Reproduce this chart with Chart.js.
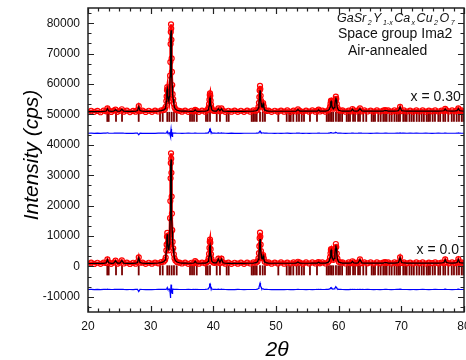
<!DOCTYPE html>
<html><head><meta charset="utf-8">
<script src="https://cdn.jsdelivr.net/npm/chart.js@4.4.0/dist/chart.umd.min.js"></script>
<style>html,body{margin:0;padding:0;background:#fff;overflow:hidden}</style>
</head><body>
<canvas id="c" width="466" height="360"></canvas>
<script>
// ---- data ----
const twoTheta=[
// S1
20.0,20.5,21.0,21.5,22.0,22.5,22.9,23.1,23.3,23.7,
24.1,24.4,24.7,25.1,25.4,25.7,26.2,26.7,27.2,27.6,
27.9,28.1,28.3,28.7,29.2,29.7,30.2,30.7,31.2,31.7,
// S2
32.1,32.3,32.4,32.5,32.55,32.6,32.65,32.7,32.75,32.8,
32.9,33.0,33.05,33.1,33.14,33.18,33.21,33.25,33.28,33.31,
33.35,33.39,33.44,33.5,33.6,33.7,33.8,33.95,34.2,34.6,
// S3
35.0,35.5,36.0,36.5,36.9,37.1,37.3,37.7,38.2,
// S4
38.7,39.0,39.15,39.25,39.32,39.38,39.43,39.47,39.52,39.57,39.63,39.7,39.8,40.0,40.2,
// S5
40.5,40.8,41.05,41.3,41.55,41.9,42.4,42.9,43.4,43.9,44.4,44.9,45.4,45.9,46.4,
// S6
46.8,47.05,47.2,47.28,47.34,47.39,47.45,47.5,47.55,47.61,47.68,47.77,47.87,47.95,48.05,48.2,48.5,
// S7
48.8,49.3,49.8,50.3,50.8,51.3,51.8,52.3,52.8,53.2,53.5,53.8,54.3,54.8,55.3,55.8,56.3,56.6,56.8,57.0,57.4,57.9,
// S8
58.3,58.5,58.62,58.7,58.76,58.8,58.86,58.93,59.02,59.15,59.3,59.4,59.47,59.55,59.62,59.7,59.8,60.0,60.3,
// S9
60.6,
61.1,61.6,62.0,62.2,62.4,62.8,63.1,63.4,63.7,64.1,
64.6,65.1,65.6,66.1,66.6,67.1,67.4,67.6,67.9,68.4,
68.9,69.3,69.55,69.8,70.05,70.4,70.9,71.4,71.9,72.4,
72.9,73.4,73.9,74.4,74.9,75.4,75.9,76.4,76.8,77.0,
77.2,77.6,78.1,78.6,78.9,79.1,79.3,79.6,80.0];

// x = 0.30 pattern (plotted with +50000 offset)
const obsTop=[
50750,51200,50850,51150,50700,51250,51000,52000,51300,50800,
51250,51600,50850,51200,51700,50900,51250,50750,51150,50900,
51400,52700,51100,51250,50800,51200,50850,51250,50950,51350,
51470,51890,52520,54390,55910,57970,58990,58170,56450,55300,
54420,56100,58510,62750,67210,73140,77100,79640,78240,74560,
68400,63970,59670,56650,55030,53440,52330,51730,51360,51170,
50900,51250,50850,51200,50950,51520,51250,50850,51250,
50900,51400,51590,52239,53360,54835,56370,56900,56130,54540,53240,52120,51530,51212,51130,
51250,51950,51000,51950,51250,50850,51200,50900,51250,50850,51200,50850,51250,50900,51300,
51227,51527,52371,53794,55713,57880,59396,58341,56124,54358,52913,52550,53161,53732,52672,51533,51152,
51250,50850,51200,50900,51250,50900,51300,50850,51250,50950,51640,51200,50850,51250,50900,51300,50900,51250,51540,50950,51250,50900,
51279,51660,52490,53529,54359,54577,54154,53133,52305,51881,52318,53536,54828,55842,55076,53465,52182,51390,51201,
51300,
50900,51250,51000,51780,51300,50950,51300,51980,51000,51300,
50950,51250,50900,51300,50950,51250,51400,51150,51300,50900,
51300,50950,51350,52500,51100,51300,50950,51250,50900,51300,
50950,51300,50900,51250,51000,51300,50950,51250,51100,51800,
51350,50950,51300,51000,51350,52000,51150,51300,51000];
const calcTop=[
50900,50920,50930,50940,50950,50970,51130,51850,51130,51000,
51030,51550,51030,51040,51650,51040,51010,51000,51010,51030,
51250,52550,51250,51040,51020,51020,51030,51040,51100,51230,
51470,51880,52500,54300,55750,57650,58400,57850,56250,55200,
54350,55950,58300,62300,66600,72300,75800,77700,76600,73300,
67600,63400,59350,56500,54950,53400,52320,51720,51360,51170,
51080,51050,51030,51020,51080,51480,51080,51020,51040,
51070,51200,51440,51930,52770,53880,55030,55430,54850,53660,52680,51840,51400,51160,51100,
51100,51850,51170,51850,51100,51030,51020,51020,51020,51020,51020,51020,51030,51040,51060,
51189,51436,52130,53298,54873,56652,57897,57035,55221,53780,52612,52365,52994,53552,52558,51487,51134,
51050,51030,51030,51030,51030,51030,51030,51040,51040,51070,51580,51070,51050,51050,51050,51050,51060,51090,51480,51090,51070,51090,
51263,51617,52389,53365,54137,54340,53946,53002,52219,51824,52233,53368,54601,55542,54822,53298,52104,51366,51190,
51100,
51090,51090,51180,51720,51180,51100,51140,51900,51140,51100,
51090,51090,51090,51090,51090,51100,51270,51270,51100,51090,
51100,51120,51230,52400,51230,51120,51100,51100,51100,51100,
51100,51110,51110,51110,51110,51110,51110,51120,51210,51750,
51210,51120,51110,51130,51240,51900,51240,51130,51100];
const diffTop=[
43800,43830,43770,43810,43750,43830,43830,43950,43830,43800,
43810,43850,43810,43810,43850,43810,43790,43780,43790,43810,
43820,43300,43820,43790,43780,43800,43770,43790,43810,43810,
43810,43800,43820,43890,43960,44120,44390,44120,44000,43900,
43870,43950,43600,43200,42600,42900,43900,45200,45000,44600,
44200,43300,42800,43950,43880,43840,43810,43810,43800,43800,
43790,43800,43810,43800,43810,43840,43810,43800,43800,
43824,43866,43947,44110,44390,44759,45142,45275,45082,44685,44360,44080,43932,43853,43832,
43800,43900,43810,43900,43810,43800,43790,43810,43780,43800,43790,43800,43800,43800,43800,
43819,43846,43921,44048,44220,44414,44550,44453,44252,44089,43951,43893,43884,43890,43857,43823,43809,
43800,43800,43790,43800,43790,43800,43810,43790,43800,43810,43860,43810,43790,43800,43790,43800,43800,43810,43860,43810,43800,43800,
43816,43843,43901,43964,44022,44037,44008,43931,43886,43857,43885,43968,44027,44100,44054,43967,43878,43824,43811,
43800,
43790,43800,43810,43860,43810,43800,43810,43880,43810,43800,
43800,43790,43800,43810,43800,43800,43820,43820,43800,43800,
43800,43810,43810,43900,43810,43810,43800,43810,43800,43810,
43800,43800,43810,43800,43790,43800,43810,43800,43810,43850,
43810,43800,43800,43800,43810,43900,43810,43800,43800];

// x = 0.0 pattern
const obsBottom=[
850,1250,800,1200,850,1250,1150,2300,1350,850,
1250,1900,900,1250,2000,950,1250,800,1200,900,
1450,3000,1200,1250,850,1200,900,1250,1000,1400,
1600,2110,2905,5244,7150,9725,11000,9976,7832,6390,
5300,7450,10490,15850,21500,29000,34010,37210,35440,30800,
22980,17370,11920,8050,5950,4000,2650,1910,1450,1215,
950,1250,850,1200,1050,1720,1300,900,1250,
1000,1450,1780,2638,4120,6070,8100,8800,7790,5680,3960,2480,1700,1280,1180,
1300,2570,1100,2570,1300,900,1250,850,1200,900,1250,850,1250,950,1300,
1268,1628,2641,4353,6662,9271,11092,9815,7138,4996,3222,2690,3183,3700,2660,1548,1164,
1300,900,1250,950,1300,900,1250,950,1300,1000,1530,1250,900,1300,950,1300,950,1250,1440,1000,1300,950,
1354,1857,2955,4330,5429,5717,5157,3806,2710,2148,2724,4330,6035,7372,6362,4236,2544,1498,1249,
1300,
950,1300,1050,1700,1300,1000,1300,2280,1050,1300,
1000,1300,950,1300,1000,1250,1400,1150,1300,950,
1300,1000,1350,3000,1150,1300,1000,1250,950,1300,
1000,1300,950,1250,1050,1300,1000,1250,1150,2300,
1350,1000,1300,1050,1350,2400,1200,1300,1050];
const calcBottom=[
950,960,970,980,990,1000,1190,2200,1190,1020,
1050,1850,1050,1060,1950,1060,1010,1010,1010,1050,
1300,2850,1300,1040,1010,1010,1020,1030,1120,1260,
1590,2100,2880,5150,7000,9450,10600,9700,7650,6300,
5250,7300,10200,15400,20900,28200,33000,35200,34000,29800,
22400,16900,11600,7900,5850,3950,2630,1900,1440,1210,
1100,1060,1040,1030,1120,1680,1120,1030,1050,
1095,1267,1593,2245,3371,4853,6396,6928,6160,4557,3250,2125,1532,1213,1137,
1140,2450,1310,2450,1180,1040,1020,1020,1020,1020,1020,1020,1030,1040,1070,
1215,1501,2303,3657,5483,7545,8987,7982,5871,4188,2807,2446,2986,3501,2532,1492,1141,
1060,1040,1030,1030,1030,1030,1030,1030,1040,1070,1480,1070,1040,1040,1040,1050,1050,1090,1400,1090,1070,1100,
1333,1800,2821,4100,5122,5390,4870,3613,2594,2071,2607,4100,5686,6930,5990,4013,2440,1466,1235,
1100,
1090,1090,1170,1650,1170,1110,1160,2200,1160,1100,
1090,1090,1090,1090,1090,1100,1270,1270,1100,1090,
1100,1130,1270,2850,1270,1130,1100,1100,1100,1100,
1100,1100,1100,1100,1100,1100,1100,1120,1270,2200,
1270,1120,1110,1130,1290,2300,1290,1130,1100];
const diffBottom=[
-7600,-7570,-7620,-7590,-7630,-7580,-7590,-7500,-7590,-7600,
-7590,-7550,-7590,-7590,-7550,-7590,-7610,-7600,-7610,-7590,
-7580,-8300,-7580,-7600,-7610,-7600,-7620,-7600,-7590,-7590,
-7590,-7590,-7570,-7500,-7450,-7330,-7000,-7320,-7420,-7510,
-7550,-7450,-7900,-8600,-9600,-10400,-8800,-6000,-6300,-6600,
-7000,-8300,-8900,-7450,-7500,-7550,-7580,-7590,-7590,-7600,
-7600,-7600,-7590,-7600,-7590,-7560,-7590,-7600,-7600,
-7570,-7516,-7413,-7207,-6851,-6383,-5896,-5728,-5970,-6477,-6890,-7245,-7432,-7533,-7557,
-7590,-7480,-7590,-7480,-7590,-7600,-7610,-7600,-7620,-7590,-7600,-7620,-7600,-7600,-7600,
-7547,-7473,-7262,-6904,-6421,-5874,-5495,-5767,-6333,-6792,-7185,-7356,-7403,-7401,-7472,-7544,-7577,
-7600,-7610,-7610,-7600,-7620,-7610,-7600,-7610,-7610,-7600,-7550,-7600,-7600,-7610,-7600,-7610,-7600,-7590,-7560,-7590,-7600,-7590,
-7558,-7486,-7332,-7140,-6986,-6946,-7026,-7214,-7368,-7446,-7366,-7140,-6902,-6716,-6856,-7154,-7392,-7536,-7572,
-7600,
-7610,-7610,-7590,-7550,-7590,-7600,-7590,-7520,-7590,-7600,
-7590,-7600,-7610,-7600,-7610,-7600,-7580,-7580,-7600,-7610,
-7600,-7590,-7580,-7450,-7580,-7600,-7600,-7610,-7600,-7610,
-7600,-7590,-7600,-7610,-7600,-7590,-7600,-7600,-7580,-7500,
-7580,-7600,-7610,-7600,-7580,-7500,-7580,-7600,-7600];

// Bragg reflection positions (deg)
const braggPos=[23.08,23.30,24.47,25.43,28.09,31.49,31.92,32.65,32.97,33.35,33.72,34.15,
36.28,36.60,36.92,37.35,38.83,39.10,39.47,40.54,41.06,42.13,42.45,46.12,46.37,46.65,46.92,
47.45,47.88,48.24,50.37,51.71,52.10,52.35,52.76,53.30,53.67,54.10,54.47,55.42,56.54,58.09,
58.35,58.62,58.88,59.14,59.57,59.94,60.21,60.55,61.28,61.55,61.81,62.30,62.61,63.10,63.40,
63.93,64.40,65.27,65.55,65.80,66.32,66.70,67.12,67.40,67.66,68.10,68.46,68.90,69.26,69.55,
69.79,70.31,70.60,70.85,71.30,71.65,72.00,72.45,72.85,73.25,73.60,74.04,74.30,74.57,75.00,
75.37,75.90,76.20,76.70,77.00,77.49,78.04,78.40,78.83,79.20,79.63,79.90];
const braggLevelTop=49200;
const braggLevelBottom=-1300;

const xTicks=[20,30,40,50,60,70,80];
const yTicks=[-10000,0,10000,20000,30000,40000,50000,60000,70000,80000];
const xRange=[20,80];
const yRange=[-15000,85000];
const yTitle='Intensity (cps)';
const xTitle='2θ';
const formula=[['GaSr',0],['2',1],['Y',0],['1-x',1],['Ca',0],['x',1],['Cu',0],['2',1],['O',0],['7',1]];
const infoLines=['Space group Ima2','Air-annealed'];
const seriesLabels=['x = 0.30','x = 0.0'];

// sanity check: all series must match the 2θ grid
[obsTop,calcTop,diffTop,obsBottom,calcBottom,diffBottom].forEach((a,k)=>{
  if(a.length!==twoTheta.length) throw new Error('series '+k+' length '+a.length+' != '+twoTheta.length);});

// ---- chart ----
const pts=(ys)=>twoTheta.map((t,i)=>({x:t,y:ys[i]}));
const FONT='"Liberation Sans", Arial, sans-serif';
Chart.defaults.font.family=FONT;

const deco={id:'deco',afterDraw(chart){
  const {ctx,chartArea:a,scales:{x,y}}=chart;
  ctx.save();
  ctx.strokeStyle='#222';ctx.lineWidth=1.2;
  ctx.beginPath();
  for(let i=-4;i<=25;i++){const v=i*10000/3;if(v<y.min||v>y.max)continue;
    const py=Math.round(y.getPixelForValue(v))+0.5;const L=(i%3===0)?6:3.5;
    ctx.moveTo(a.left,py);ctx.lineTo(a.left+L,py);ctx.moveTo(a.right,py);ctx.lineTo(a.right-L,py);}
  for(let i=0;i<=36;i++){const v=20+i*10/6;
    const px=Math.round(x.getPixelForValue(v))+0.5;const L=(i%6===0)?6:3.5;
    ctx.moveTo(px,a.bottom);ctx.lineTo(px,a.bottom-L);ctx.moveTo(px,a.top);ctx.lineTo(px,a.top+L);}
  ctx.stroke();
  ctx.lineWidth=1.5;ctx.strokeStyle='#222';
  ctx.strokeRect(a.left,a.top,a.right-a.left,a.bottom-a.top);
  // axis titles
  ctx.fillStyle='#000';
  ctx.font='italic 21px '+FONT;ctx.textAlign='center';ctx.textBaseline='middle';
  ctx.save();ctx.translate(32,155);ctx.rotate(-Math.PI/2);ctx.fillText(yTitle,0,0);ctx.restore();
  ctx.textBaseline='alphabetic';
  ctx.fillText(xTitle,277,356);
  // formula
  ctx.textAlign='left';ctx.fillStyle='#111';
  let cx=337;
  formula.forEach(([t,sub])=>{
    if(sub){ctx.font='italic 7px '+FONT;ctx.fillText(t,cx,25);}
    else{ctx.font='italic 12.5px '+FONT;ctx.fillText(t,cx,22);}
    cx+=ctx.measureText(t).width+1.5;});
  ctx.font='14px '+FONT;
  ctx.fillText(infoLines[0],338,38);
  ctx.fillText(infoLines[1],348,55);
  ctx.fillText(seriesLabels[0],410.5,101);
  ctx.fillText(seriesLabels[1],416.5,253.5);
  ctx.restore();
}};

const lineDs=(data,color,w,order)=>({data,showLine:true,borderColor:color,borderWidth:w,pointRadius:0,tension:0,order});
const obsDs=(data)=>({data,showLine:true,borderColor:'#ff0000',borderWidth:2.5,pointRadius:2.5,pointBorderWidth:1.2,
  pointBorderColor:'#ff0000',pointBackgroundColor:'rgba(255,255,255,0)',tension:0,order:1});
const braggDs=(level)=>({data:braggPos.map(p=>({x:p,y:level})),showLine:false,pointStyle:'line',pointRotation:90,
  pointRadius:5,pointBorderWidth:1.8,pointBorderColor:'#7a0000',order:3});

new Chart(document.getElementById('c'),{
  type:'scatter',
  data:{datasets:[
    lineDs(pts(calcTop),'#000',1.2,0),
    lineDs(pts(calcBottom),'#000',1.2,0),
    obsDs(pts(obsTop)),
    obsDs(pts(obsBottom)),
    lineDs(pts(diffTop),'#0000ff',1.2,2),
    lineDs(pts(diffBottom),'#0000ff',1.2,2),
    braggDs(braggLevelTop),
    braggDs(braggLevelBottom)
  ]},
  options:{
    responsive:false,animation:false,events:[],
    layout:{autoPadding:false,padding:{top:8,right:2,left:0,bottom:0}},
    plugins:{legend:{display:false},tooltip:{enabled:false},title:{display:false}},
    scales:{
      x:{type:'linear',min:xRange[0],max:xRange[1],
        afterBuildTicks(s){s.ticks=xTicks.map(v=>({value:v}));},
        afterFit(s){s.height=48;s.paddingLeft=0;s.paddingRight=0;},
        grid:{display:false,drawTicks:false},border:{display:false},
        ticks:{padding:7,color:'#111',font:{size:12},maxRotation:0,autoSkip:false,callback:v=>String(v)}},
      y:{type:'linear',min:yRange[0],max:yRange[1],
        afterBuildTicks(s){s.ticks=yTicks.map(v=>({value:v}));},
        afterFit(s){s.width=88;s.paddingTop=0;s.paddingBottom=0;},
        grid:{display:false,drawTicks:false},border:{display:false},
        ticks:{padding:8,color:'#111',font:{size:12},autoSkip:false,callback:v=>String(v)}}
    }
  },
  plugins:[deco]
});
</script>
</body></html>
